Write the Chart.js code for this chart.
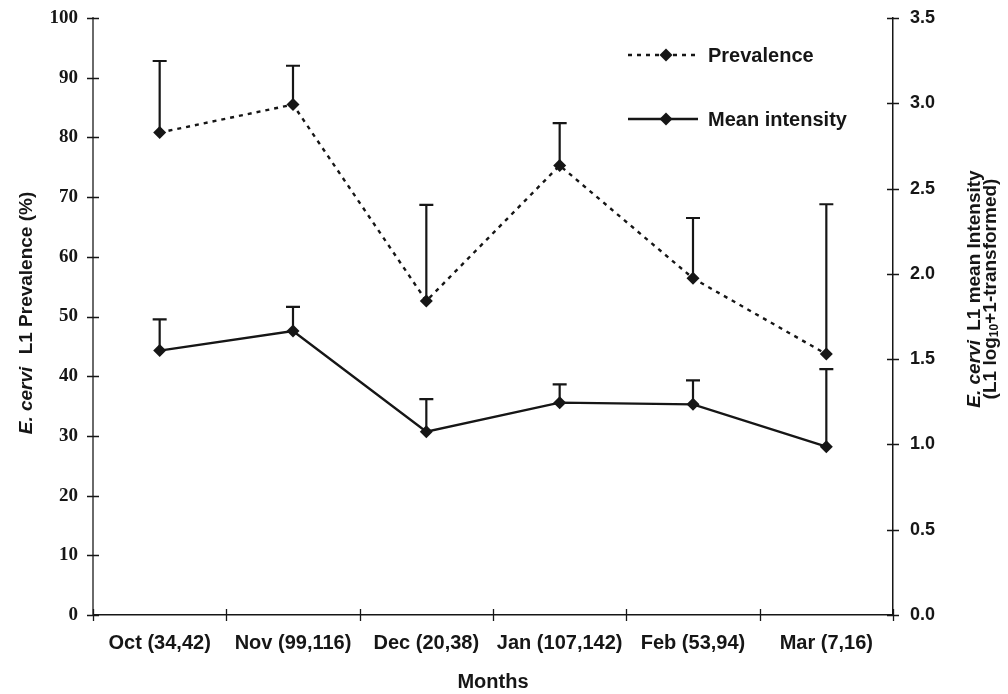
<!DOCTYPE html>
<html>
<head>
<meta charset="utf-8">
<script src="https://cdn.jsdelivr.net/npm/chart.js@4/dist/chart.umd.min.js"></script>
<style>
  html, body { margin: 0; padding: 0; background: #fff; }
  #wrap { width: 1008px; height: 694px; position: relative; }
</style>
</head>
<body>
<div id="wrap"><canvas id="chart" width="1008" height="694"></canvas></div>
<script>
// months with sample sizes
const months = ['Oct (34,42)', 'Nov (99,116)', 'Dec (20,38)', 'Jan (107,142)', 'Feb (53,94)', 'Mar (7,16)'];

// prevalence (%) - left axis
const prevalence = [80.8, 85.5, 52.6, 75.3, 56.4, 43.7];
const prevalenceUpper = [92.8, 92.0, 68.7, 82.4, 66.5, 68.8];

// mean intensity (log10+1) - right axis
const intensity = [1.55, 1.665, 1.075, 1.245, 1.235, 0.987];
const intensityUpper = [1.733, 1.807, 1.266, 1.352, 1.376, 1.442];

// tick labels
const leftTicks = [0, 10, 20, 30, 40, 50, 60, 70, 80, 90, 100];
const rightTicks = [0, 0.5, 1.0, 1.5, 2.0, 2.5, 3.0, 3.5];

const INK = '#161616';
const SANS = '"Liberation Sans", Arial, Helvetica, sans-serif';
const SERIF = '"Liberation Serif", "Times New Roman", serif';

// draw a row of text pieces with different fonts, centered at (0,0)
function drawPieces(ctx, pieces) {
    let total = 0;
    pieces.forEach(p => {
        ctx.font = p.font;
        p.w = ctx.measureText(p.text).width + (p.gap || 0);
        total += p.w;
    });
    let x = -total / 2;
    pieces.forEach(p => {
        ctx.font = p.font;
        ctx.fillText(p.text, x, p.dy || 0);
        x += p.w;
    });
}

// error bars (upper only, with a cap)
const errorBarPlugin = {
    id: 'errorBars',
    afterDatasetsDraw(chart) {
        const ctx = chart.ctx;
        chart.data.datasets.forEach((ds, di) => {
            if (!ds.upper) return;
            const meta = chart.getDatasetMeta(di);
            const scale = chart.scales[ds.yAxisID];
            ctx.save();
            ctx.strokeStyle = INK;
            ctx.lineWidth = 2.2;
            ctx.setLineDash([]);
            meta.data.forEach((pt, i) => {
                const yTop = scale.getPixelForValue(ds.upper[i]);
                ctx.beginPath();
                ctx.moveTo(pt.x, pt.y);
                ctx.lineTo(pt.x, yTop);
                ctx.moveTo(pt.x - 7, yTop);
                ctx.lineTo(pt.x + 7, yTop);
                ctx.stroke();
            });
            ctx.restore();
        });
    }
};

// crossing tick marks, legend and axis titles
const decorPlugin = {
    id: 'decor',
    afterDraw(chart) {
        const ctx = chart.ctx;
        const area = chart.chartArea;
        const x = chart.scales.x;
        const yL = chart.scales.yLeft;
        const yR = chart.scales.yRight;

        ctx.save();
        ctx.lineWidth = 1.3;
        ctx.strokeStyle = INK;
        ctx.beginPath();
        yL.ticks.forEach((t, i) => {
            const py = Math.round(yL.getPixelForTick(i)) + 0.5;
            ctx.moveTo(area.left - 6, py);
            ctx.lineTo(area.left + 6, py);
        });
        yR.ticks.forEach((t, i) => {
            const py = Math.round(yR.getPixelForTick(i)) + 0.5;
            ctx.moveTo(area.right - 6, py);
            ctx.lineTo(area.right + 6, py);
        });
        for (let i = 0; i <= months.length; i++) {
            const px = Math.round(x.getPixelForValue(i - 0.5)) + 0.5;
            ctx.moveTo(px, area.bottom - 6);
            ctx.lineTo(px, area.bottom + 6);
        }
        ctx.stroke();

        // legend
        const lx0 = 628, lx1 = 698, lxm = 666;
        const rows = [
            { y: 55, label: 'Prevalence', dash: [4, 5] },
            { y: 119, label: 'Mean intensity', dash: [] }
        ];
        rows.forEach(r => {
            ctx.lineWidth = 2.4;
            ctx.setLineDash(r.dash);
            ctx.beginPath();
            ctx.moveTo(lx0, r.y);
            ctx.lineTo(lx1, r.y);
            ctx.stroke();
            ctx.setLineDash([]);
            ctx.fillStyle = INK;
            ctx.beginPath();
            ctx.moveTo(lxm, r.y - 6.5);
            ctx.lineTo(lxm + 6.5, r.y);
            ctx.lineTo(lxm, r.y + 6.5);
            ctx.lineTo(lxm - 6.5, r.y);
            ctx.closePath();
            ctx.fill();
            ctx.font = 'bold 20px ' + SANS;
            ctx.textBaseline = 'middle';
            ctx.textAlign = 'left';
            ctx.fillText(r.label, 708, r.y + 1);
        });

        // axis titles
        ctx.fillStyle = INK;
        ctx.textAlign = 'left';
        ctx.textBaseline = 'middle';
        const b = 'bold 19px ' + SANS;
        const bi = 'italic bold 19px ' + SANS;

        ctx.save();
        ctx.translate(27, 313);
        ctx.rotate(-Math.PI / 2);
        drawPieces(ctx, [
            { text: 'E. cervi', font: bi, gap: 7 },
            { text: ' L1 Prevalence (%)', font: b }
        ]);
        ctx.restore();

        ctx.save();
        ctx.translate(975, 289);
        ctx.rotate(-Math.PI / 2);
        drawPieces(ctx, [
            { text: 'E. cervi', font: bi, gap: 4 },
            { text: ' L1 mean Intensity', font: b }
        ]);
        ctx.restore();

        ctx.save();
        ctx.translate(991, 289);
        ctx.rotate(-Math.PI / 2);
        drawPieces(ctx, [
            { text: '(L1 log', font: b },
            { text: '10', font: 'bold 12px ' + SANS, dy: 4 },
            { text: '+1-transformed)', font: b }
        ]);
        ctx.restore();

        // x title
        ctx.font = 'bold 20px ' + SANS;
        ctx.textAlign = 'center';
        ctx.fillText('Months', (area.left + area.right) / 2, 682);
        ctx.restore();
    }
};

new Chart(document.getElementById('chart'), {
    type: 'line',
    data: {
        labels: months,
        datasets: [
            {
                label: 'Prevalence',
                data: prevalence,
                upper: prevalenceUpper,
                yAxisID: 'yLeft',
                borderColor: INK,
                borderWidth: 2.4,
                borderDash: [4, 5],
                pointStyle: 'rectRot',
                pointRadius: 6.5,
                pointBackgroundColor: INK,
                pointBorderColor: INK,
                pointBorderWidth: 0,
                tension: 0
            },
            {
                label: 'Mean intensity',
                data: intensity,
                upper: intensityUpper,
                yAxisID: 'yRight',
                borderColor: INK,
                borderWidth: 2.4,
                pointStyle: 'rectRot',
                pointRadius: 6.5,
                pointBackgroundColor: INK,
                pointBorderColor: INK,
                pointBorderWidth: 0,
                tension: 0
            }
        ]
    },
    options: {
        responsive: false,
        animation: false,
        events: [],
        layout: { padding: { top: 18, left: 0, right: 0, bottom: 0 } },
        plugins: {
            legend: { display: false },
            tooltip: { enabled: false }
        },
        scales: {
            x: {
                offset: true,
                grid: { display: true, drawOnChartArea: false, drawTicks: false },
                border: { display: true, color: INK, width: 1.5 },
                ticks: {
                    color: INK,
                    padding: 16,
                    maxRotation: 0,
                    autoSkip: false,
                    font: { family: SANS, size: 20, weight: 'bold' }
                },
                afterFit(s) { s.height = 79; s.paddingLeft = 0; s.paddingRight = 0; }
            },
            yLeft: {
                position: 'left',
                min: 0,
                max: 100,
                afterBuildTicks(s) { s.ticks = leftTicks.map(v => ({ value: v })); },
                grid: { display: true, drawOnChartArea: false, drawTicks: false },
                border: { display: true, color: '#6a6a6a', width: 2 },
                ticks: {
                    color: INK,
                    padding: 15,
                    font: { family: SERIF, size: 19, weight: 'bold' }
                },
                afterFit(s) { s.width = 93; s.paddingTop = 0; s.paddingBottom = 0; }
            },
            yRight: {
                position: 'right',
                min: 0,
                max: 3.5,
                afterBuildTicks(s) { s.ticks = rightTicks.map(v => ({ value: v })); },
                grid: { display: true, drawOnChartArea: false, drawTicks: false },
                border: { display: true, color: INK, width: 1.5 },
                ticks: {
                    color: INK,
                    padding: 17,
                    callback: v => Number(v).toFixed(1),
                    font: { family: SANS, size: 18, weight: 'bold' }
                },
                afterFit(s) { s.width = 115; s.paddingTop = 0; s.paddingBottom = 0; }
            }
        }
    },
    plugins: [errorBarPlugin, decorPlugin]
});
</script>
</body>
</html>
